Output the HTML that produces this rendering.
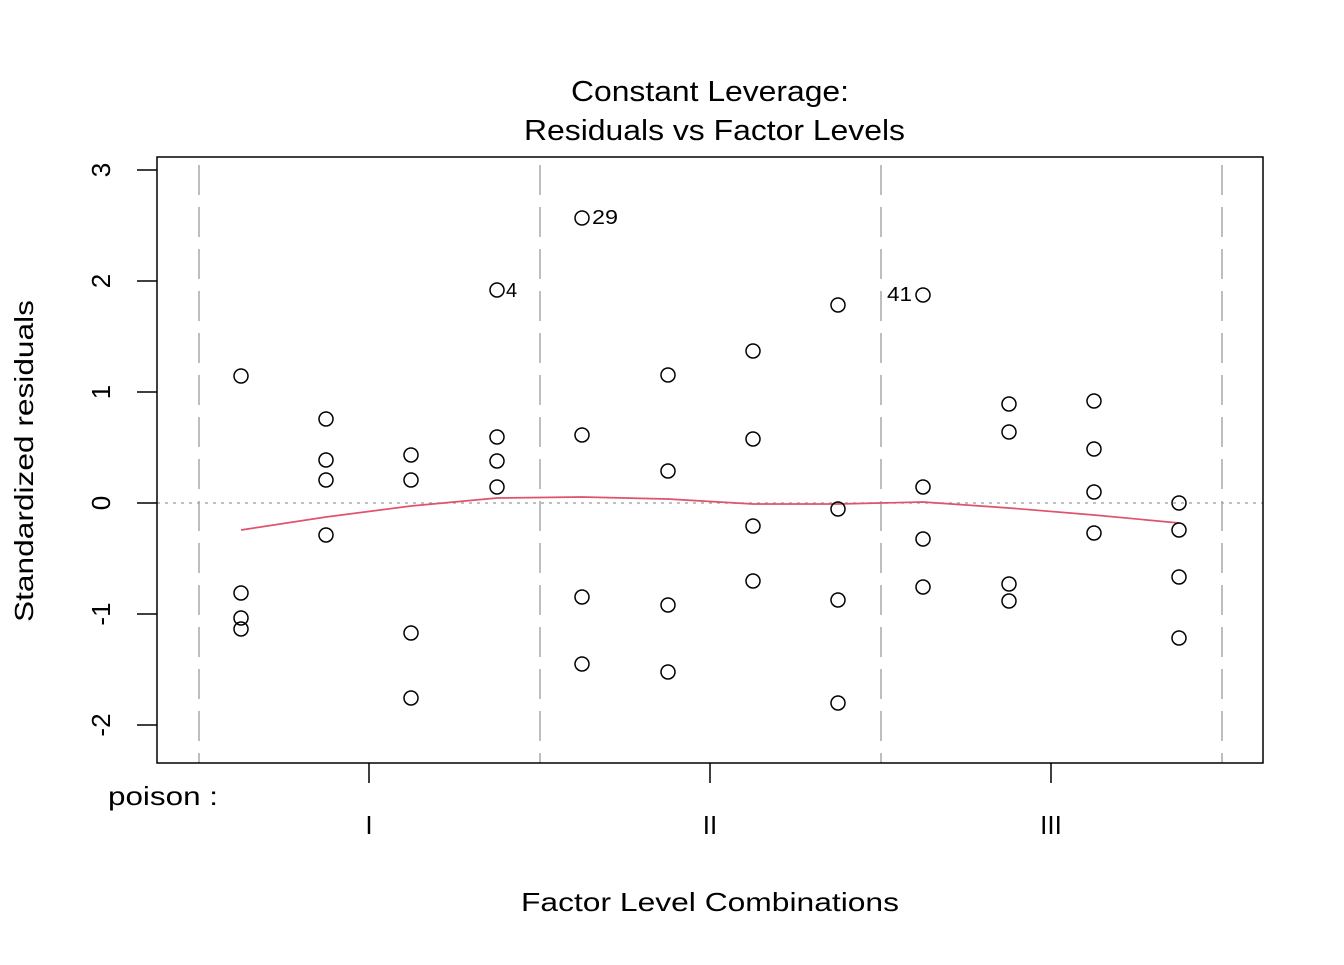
<!DOCTYPE html>
<html><head><meta charset="utf-8"><style>html,body{margin:0;padding:0;background:#fff}</style></head>
<body>
<svg width="1344" height="960" xmlns="http://www.w3.org/2000/svg" font-family="Liberation Sans, Arial, sans-serif">
<rect width="1344" height="960" fill="#fff"/>
<text x="571" y="101" font-size="29" textLength="278" lengthAdjust="spacingAndGlyphs">Constant Leverage:</text>
<text x="524" y="140" font-size="29" textLength="381" lengthAdjust="spacingAndGlyphs">Residuals vs Factor Levels</text>
<g stroke="#bebebe" stroke-width="2" stroke-dasharray="30,12">
<line x1="199" y1="165" x2="199" y2="763"/><line x1="540" y1="165" x2="540" y2="763"/>
<line x1="881" y1="165" x2="881" y2="763"/><line x1="1222" y1="165" x2="1222" y2="763"/>
</g>
<line x1="157" y1="503" x2="1263" y2="503" stroke="#aaa" stroke-width="1.5" stroke-dasharray="3,5"/>
<polyline fill="none" stroke="#DF536B" stroke-width="1.7" points="241,530 326,517 411,506 497,498 582,497 668,499 753,504 838,504 923,502 1009,508 1094,515 1179,523"/>
<rect x="157" y="157" width="1106" height="606" fill="none" stroke="#000" stroke-width="1.5"/>
<g stroke="#000" stroke-width="1.5">
<line x1="137" y1="170" x2="157" y2="170"/><line x1="137" y1="281" x2="157" y2="281"/>
<line x1="137" y1="392" x2="157" y2="392"/><line x1="137" y1="503" x2="157" y2="503"/>
<line x1="137" y1="614" x2="157" y2="614"/><line x1="137" y1="725" x2="157" y2="725"/>
<line x1="369" y1="763" x2="369" y2="783"/><line x1="710" y1="763" x2="710" y2="783"/><line x1="1051" y1="763" x2="1051" y2="783"/>
</g>
<g font-size="26" text-anchor="middle">
<text transform="translate(110,170) rotate(-90)">3</text>
<text transform="translate(110,281) rotate(-90)">2</text>
<text transform="translate(110,392) rotate(-90)">1</text>
<text transform="translate(110,503) rotate(-90)">0</text>
<text transform="translate(110,614) rotate(-90)">-1</text>
<text transform="translate(110,725) rotate(-90)">-2</text>
<text x="369" y="834">I</text><text x="710" y="834">II</text><text x="1051" y="834">III</text>
</g>
<text transform="translate(33,622) rotate(-90)" font-size="26" textLength="322" lengthAdjust="spacingAndGlyphs">Standardized residuals</text>
<text x="521" y="911" font-size="26" textLength="378" lengthAdjust="spacingAndGlyphs">Factor Level Combinations</text>
<text x="108" y="805" font-size="26" textLength="110" lengthAdjust="spacingAndGlyphs">poison :</text>
<g font-size="20">
<text x="592" y="224" textLength="26" lengthAdjust="spacingAndGlyphs">29</text><text x="506" y="297">4</text><text x="887" y="301" textLength="25" lengthAdjust="spacingAndGlyphs">41</text>
</g>
<g fill="none" stroke="#000" stroke-width="1.5">
<circle cx="241" cy="376" r="7"/><circle cx="241" cy="593" r="7"/><circle cx="241" cy="618" r="7"/><circle cx="241" cy="629" r="7"/>
<circle cx="326" cy="419" r="7"/><circle cx="326" cy="460" r="7"/><circle cx="326" cy="480" r="7"/><circle cx="326" cy="535" r="7"/>
<circle cx="411" cy="455" r="7"/><circle cx="411" cy="480" r="7"/><circle cx="411" cy="633" r="7"/><circle cx="411" cy="698" r="7"/>
<circle cx="497" cy="290" r="7"/><circle cx="497" cy="437" r="7"/><circle cx="497" cy="461" r="7"/><circle cx="497" cy="487" r="7"/>
<circle cx="582" cy="218" r="7"/><circle cx="582" cy="435" r="7"/><circle cx="582" cy="597" r="7"/><circle cx="582" cy="664" r="7"/>
<circle cx="668" cy="375" r="7"/><circle cx="668" cy="471" r="7"/><circle cx="668" cy="605" r="7"/><circle cx="668" cy="672" r="7"/>
<circle cx="753" cy="351" r="7"/><circle cx="753" cy="439" r="7"/><circle cx="753" cy="526" r="7"/><circle cx="753" cy="581" r="7"/>
<circle cx="838" cy="305" r="7"/><circle cx="838" cy="509" r="7"/><circle cx="838" cy="600" r="7"/><circle cx="838" cy="703" r="7"/>
<circle cx="923" cy="295" r="7"/><circle cx="923" cy="487" r="7"/><circle cx="923" cy="539" r="7"/><circle cx="923" cy="587" r="7"/>
<circle cx="1009" cy="404" r="7"/><circle cx="1009" cy="432" r="7"/><circle cx="1009" cy="584" r="7"/><circle cx="1009" cy="601" r="7"/>
<circle cx="1094" cy="401" r="7"/><circle cx="1094" cy="449" r="7"/><circle cx="1094" cy="492" r="7"/><circle cx="1094" cy="533" r="7"/>
<circle cx="1179" cy="503" r="7"/><circle cx="1179" cy="530" r="7"/><circle cx="1179" cy="577" r="7"/><circle cx="1179" cy="638" r="7"/>
</g>
</svg>
</body></html>
